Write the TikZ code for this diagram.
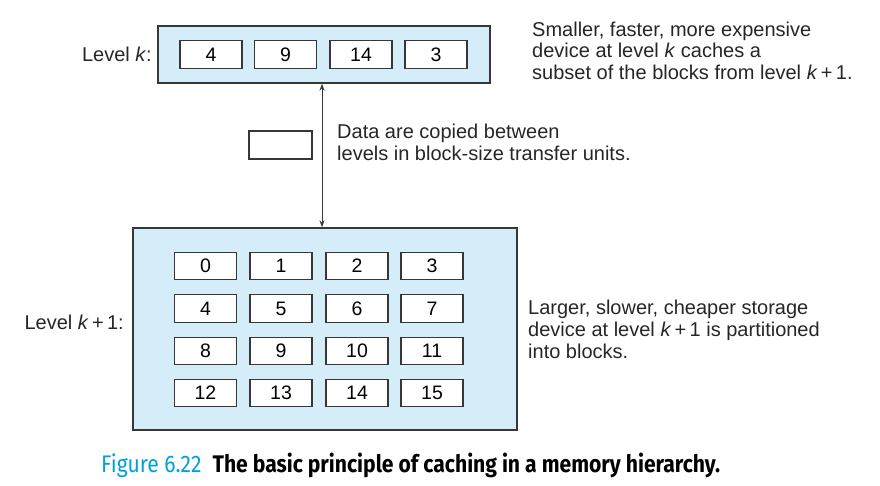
\documentclass[tikz,border=0pt]{standalone}
\usepackage{fontspec}
\setmainfont{Liberation Sans}
\newfontfamily\capfont[FakeStretch=0.88]{Fira Sans}
\usetikzlibrary{arrows.meta}
\definecolor{boxblue}{RGB}{212,237,249}
\definecolor{edge}{RGB}{55,55,55}
\definecolor{figcyan}{RGB}{0,160,220}
\begin{document}
\begin{tikzpicture}[x=1pt,y=-1pt,
  level/.style={draw=edge, line width=1.4pt, fill=boxblue, inner sep=0pt},
  blk/.style={draw=edge, line width=1.3pt, fill=white, minimum width=62pt, minimum height=27.5pt, inner sep=0pt, font=\fontsize{19.5}{22}\selectfont},
  lbl/.style={font=\fontsize{20}{22}\selectfont, text=black!85, inner sep=0pt},
  note/.style={font=\fontsize{20}{21.7}\selectfont, text=black!85, align=left, inner sep=0pt, anchor=north west},
  >={Stealth[length=7pt,width=5pt]}]
\useasboundingbox (0,0) rectangle (880,485);
% top level
\node[level, minimum width=332pt, minimum height=57pt] (top) at (324,54.5) {};
\foreach \n/\x [count=\i] in {4/211,9/285.5,14/361,3/436}
  \node[blk] (t\i) at (\x,54.5) {\n};
\node[lbl, anchor=east] (lk) at (152,54.5) {Level \textit{k}:};
% bottom level
\node[level, minimum width=384pt, minimum height=202pt] (bot) at (325,329) {};
\foreach \r/\y [count=\j from 0] in {0/266,1/308.5,2/351,3/393}
  \foreach \x [count=\i from 0] in {205.5,281,357,432}
    {\pgfmathtruncatemacro{\v}{4*\j+\i}
     \node[blk] (b\v) at (\x,\y) {\v};}
\node[lbl, anchor=east] (lk1) at (124,322) {Level \textit{k}\,+\,1:};
% transfer
\coordinate (ax) at (322,0);
\draw[<->, line width=1pt, edge] (top.south -| ax) -- (bot.north -| ax);
\node[draw=edge, line width=1.3pt, fill=white, minimum width=63pt, minimum height=28pt, inner sep=0pt] (unit) at (280.5,145) {};
\node[note] (tdata) at (337,124) {Data are copied between\\levels in block-size transfer units.};
% notes
\node[note] (tk) at (532,21.5) {Smaller, faster, more expensive\\device at level \textit{k} caches a\\subset of the blocks from level \textit{k}\,+\,1.};
\node[note] (tk1) at (528,300) {Larger, slower, cheaper storage\\device at level \textit{k}\,+\,1 is partitioned\\into blocks.};
% caption
\node[anchor=base west, inner sep=0pt, font=\capfont\fontsize{24}{26}\selectfont] (cap) at (101,472)
  {\textcolor{figcyan}{Figure 6.22}\hspace{11pt}\textbf{The basic principle of caching in a memory hierarchy.}};
\end{tikzpicture}
\end{document}
